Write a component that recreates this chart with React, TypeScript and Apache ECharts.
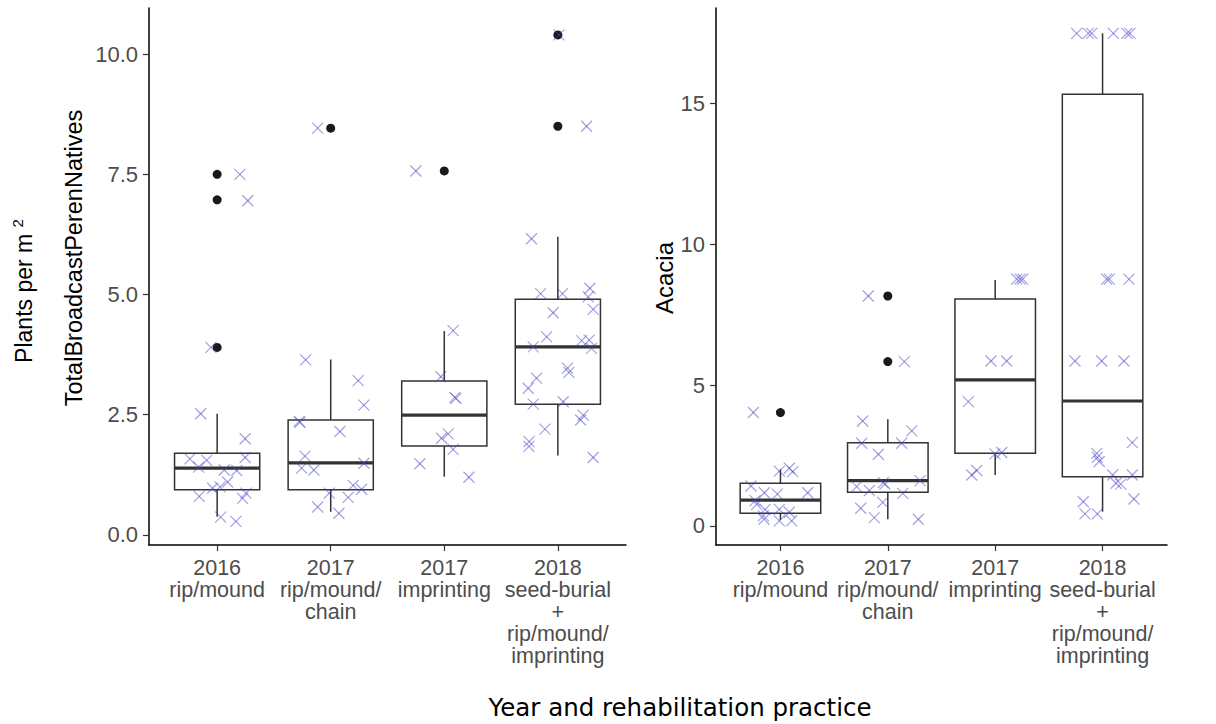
import React, { useEffect, useRef } from "react";
import * as echarts from "echarts";

const categories = [
  "2016\nrip/mound",
  "2017\nrip/mound/\nchain",
  "2017\nimprinting",
  "2018\nseed-burial\n+\nrip/mound/\nimprinting",
];

// Left panel: TotalBroadcastPerenNatives
const leftLow = [0.38, 0.48, 1.21, 1.65];
const leftQ1 = [0.94, 0.94, 1.85, 2.72];
const leftMed = [1.39, 1.5, 2.49, 3.91];
const leftQ3 = [1.7, 2.39, 3.2, 4.9];
const leftHigh = [2.52, 3.65, 4.24, 6.2];
const leftOutliers = [
  [1, 3.9], [1, 6.97], [1, 7.5], [2, 8.46], [3, 7.57], [4, 8.5], [4, 10.4],
];
// [category, jitter offset, value]
const leftJitter = [
  [1, -0.055, 3.9], [1, -0.145, 2.52], [1, 0.247, 2.0], [1, -0.24, 1.58], [1, -0.163, 1.41],
  [1, -0.092, 1.55], [1, 0.247, 1.61], [1, 0.063, 1.35], [1, 0.172, 1.34], [1, 0.092, 1.1],
  [1, 0.025, 1.0], [1, -0.04, 0.97], [1, -0.158, 0.8], [1, 0.224, 0.76], [1, 0.254, 0.87],
  [1, 0.031, 0.37], [1, 0.165, 0.28], [1, 0.2, 7.5], [1, 0.27, 6.95],
  [2, -0.115, 8.46], [2, -0.221, 3.64], [2, 0.242, 3.21], [2, 0.292, 2.7], [2, -0.271, 2.34],
  [2, -0.277, 2.36], [2, 0.081, 2.15], [2, -0.227, 1.64], [2, -0.256, 1.39], [2, -0.148, 1.35],
  [2, 0.292, 1.49], [2, 0.198, 1.03], [2, 0.272, 0.95], [2, 0.154, 0.78], [2, -0.013, 0.87],
  [2, -0.115, 0.58], [2, 0.072, 0.45],
  [3, -0.25, 7.57], [3, 0.078, 4.25], [3, -0.03, 3.29], [3, 0.102, 2.84], [3, 0.093, 2.86],
  [3, 0.034, 2.1], [3, -0.024, 2.01], [3, 0.078, 1.78], [3, -0.215, 1.48], [3, 0.217, 1.2],
  [4, 0.01, 10.4], [4, 0.253, 8.5], [4, -0.232, 6.16], [4, -0.152, 5.02], [4, 0.041, 5.02],
  [4, 0.282, 5.13], [4, 0.267, 4.95], [4, -0.041, 4.62], [4, 0.311, 4.69], [4, -0.099, 4.12],
  [4, -0.217, 3.91], [4, 0.209, 4.04], [4, 0.276, 4.05], [4, 0.297, 3.88], [4, 0.085, 3.47],
  [4, 0.097, 3.38], [4, -0.188, 3.26], [4, -0.261, 3.05], [4, -0.217, 2.72], [4, 0.047, 2.77],
  [4, 0.223, 2.49], [4, 0.2, 2.39], [4, -0.114, 2.2], [4, -0.253, 1.94], [4, -0.255, 1.84],
  [4, 0.311, 1.61],
];
const leftTicks = [0, 2.5, 5, 7.5, 10];

// Right panel: Acacia
const rightLow = [0.21, 0.24, 1.81, 0.51];
const rightQ1 = [0.45, 1.2, 2.58, 1.75];
const rightMed = [0.92, 1.61, 5.19, 4.44];
const rightQ3 = [1.52, 2.96, 8.06, 15.34];
const rightHigh = [2.01, 3.79, 8.74, 17.5];
const rightOutliers = [[1, 4.03], [2, 5.84], [2, 8.17]];
const rightJitter = [
  [1, -0.252, 4.03], [1, -0.01, 1.95], [1, 0.083, 2.05], [1, 0.115, 1.93], [1, -0.274, 1.42],
  [1, -0.15, 1.18], [1, -0.029, 1.13], [1, 0.254, 1.18], [1, -0.236, 0.9], [1, -0.221, 0.77],
  [1, -0.143, 0.59], [1, -0.01, 0.59], [1, 0.083, 0.49], [1, -0.159, 0.36], [1, -0.153, 0.24],
  [1, -0.01, 0.18], [1, 0.105, 0.18],
  [2, -0.182, 8.17], [2, 0.154, 5.84], [2, -0.234, 3.73], [2, 0.223, 3.38], [2, -0.243, 2.94],
  [2, 0.129, 2.94], [2, -0.088, 2.55], [2, -0.29, 1.4], [2, -0.172, 1.26], [2, -0.042, 1.54],
  [2, -0.026, 1.49], [2, 0.3, 1.61], [2, 0.139, 1.16], [2, -0.047, 0.84], [2, -0.252, 0.63],
  [2, -0.126, 0.3], [2, 0.284, 0.24],
  [3, 0.2, 8.77], [3, 0.231, 8.77], [3, 0.256, 8.77], [3, -0.039, 5.86], [3, 0.107, 5.86],
  [3, -0.25, 4.42], [3, -0.002, 2.56], [3, 0.061, 2.61], [3, -0.219, 1.81], [3, -0.172, 1.97],
  [4, -0.241, 17.5], [4, -0.133, 17.5], [4, -0.101, 17.5], [4, 0.1, 17.5], [4, 0.227, 17.5],
  [4, 0.255, 17.5], [4, 0.038, 8.77], [4, 0.062, 8.77], [4, 0.246, 8.77], [4, -0.257, 5.86],
  [4, -0.008, 5.86], [4, 0.199, 5.86], [4, 0.277, 2.96], [4, -0.055, 2.58], [4, -0.049, 2.44],
  [4, -0.031, 2.29], [4, 0.094, 1.81], [4, 0.277, 1.81], [4, 0.125, 1.52], [4, 0.169, 1.49],
  [4, 0.292, 0.96], [4, -0.18, 0.86], [4, -0.164, 0.43], [4, -0.049, 0.43],
];
const rightTicks = [0, 5, 10, 15];

const xTicks = [1, 2, 3, 4];

const FONT = "'Liberation Sans', Arial, sans-serif";
const LABEL_COLOR = "#4d4d4d";
const LINE_COLOR = "#333333";
const CROSS_COLOR = "rgba(70, 70, 200, 0.5)";

function boxRows(low: number[], q1: number[], med: number[], q3: number[], high: number[]) {
  return low.map((_, i) => [i + 1, low[i], q1[i], med[i], q3[i], high[i]]);
}

function renderBox(params: any, api: any) {
  const x = api.value(0);
  const low = api.coord([x, api.value(1)]);
  const q1 = api.coord([x, api.value(2)]);
  const med = api.coord([x, api.value(3)]);
  const q3 = api.coord([x, api.value(4)]);
  const high = api.coord([x, api.value(5)]);
  const half = api.size([0.75, 0])[0] / 2;
  const cx = med[0];
  const lineStyle = { stroke: LINE_COLOR, lineWidth: 1.5, fill: "none" };
  return {
    type: "group",
    children: [
      { type: "line", shape: { x1: cx, y1: q3[1], x2: cx, y2: high[1] }, style: lineStyle },
      { type: "line", shape: { x1: cx, y1: q1[1], x2: cx, y2: low[1] }, style: lineStyle },
      {
        type: "rect",
        shape: { x: cx - half, y: q3[1], width: half * 2, height: q1[1] - q3[1] },
        style: lineStyle,
      },
      {
        type: "line",
        shape: { x1: cx - half, y1: med[1], x2: cx + half, y2: med[1] },
        style: { stroke: LINE_COLOR, lineWidth: 3.2 },
      },
    ],
  };
}

function renderCross(params: any, api: any) {
  const p = api.coord([api.value(0), api.value(1)]);
  const s = 5.5;
  const style = { stroke: CROSS_COLOR, lineWidth: 1.2 };
  return {
    type: "group",
    children: [
      { type: "line", shape: { x1: p[0] - s, y1: p[1] - s, x2: p[0] + s, y2: p[1] + s }, style },
      { type: "line", shape: { x1: p[0] - s, y1: p[1] + s, x2: p[0] + s, y2: p[1] - s }, style },
    ],
  };
}

function xAxisOpt(gridIndex: number) {
  return {
    type: "value",
    gridIndex,
    min: 0.4,
    max: 4.6,
    splitLine: { show: false },
    axisLine: { show: true, onZero: false, lineStyle: { color: "#000", width: 1.5 } },
    axisTick: { show: true, customValues: xTicks, length: 6, lineStyle: { color: LINE_COLOR, width: 1.2 } },
    axisLabel: {
      show: true,
      customValues: xTicks,
      formatter: (v: number) => categories[Math.round(v) - 1],
      color: LABEL_COLOR,
      fontFamily: FONT,
      fontSize: 21.5,
      lineHeight: 22,
      margin: 12,
      align: "center",
    },
  };
}

function yAxisOpt(gridIndex: number, min: number, max: number, ticks: number[], digits: number) {
  return {
    type: "value",
    gridIndex,
    min,
    max,
    splitLine: { show: false },
    axisLine: { show: true, onZero: false, lineStyle: { color: "#000", width: 1.5 } },
    axisTick: { show: true, customValues: ticks, length: 6, lineStyle: { color: LINE_COLOR, width: 1.2 } },
    axisLabel: {
      show: true,
      customValues: ticks,
      formatter: (v: number) => v.toFixed(digits),
      color: LABEL_COLOR,
      fontFamily: FONT,
      fontSize: 22,
      margin: 11,
    },
  };
}

export default function App() {
  const ref = useRef<HTMLDivElement>(null);
  useEffect(() => {
    if (!ref.current) return;
    const chart = echarts.init(ref.current, null, { renderer: "svg" });
    const option: any = {
      animation: false,
      backgroundColor: "#ffffff",
      grid: [
        { left: 149, top: 8, width: 477, height: 537, outerBoundsMode: "none", containLabel: false },
        { left: 716, top: 8, width: 451, height: 537, outerBoundsMode: "none", containLabel: false },
      ],
      xAxis: [xAxisOpt(0), xAxisOpt(1)],
      yAxis: [
        yAxisOpt(0, -0.21, 10.96, leftTicks, 1),
        yAxisOpt(1, -0.675, 18.4, rightTicks, 0),
      ],
      series: [
        {
          type: "custom",
          xAxisIndex: 0,
          yAxisIndex: 0,
          renderItem: renderBox,
          data: boxRows(leftLow, leftQ1, leftMed, leftQ3, leftHigh),
          z: 2,
        },
        {
          type: "custom",
          xAxisIndex: 1,
          yAxisIndex: 1,
          renderItem: renderBox,
          data: boxRows(rightLow, rightQ1, rightMed, rightQ3, rightHigh),
          z: 2,
        },
        {
          type: "scatter",
          xAxisIndex: 0,
          yAxisIndex: 0,
          symbol: "circle",
          symbolSize: 9,
          itemStyle: { color: "#1a1a1a", opacity: 1 },
          data: leftOutliers,
          z: 3,
        },
        {
          type: "scatter",
          xAxisIndex: 1,
          yAxisIndex: 1,
          symbol: "circle",
          symbolSize: 9,
          itemStyle: { color: "#1a1a1a", opacity: 1 },
          data: rightOutliers,
          z: 3,
        },
        {
          type: "custom",
          xAxisIndex: 0,
          yAxisIndex: 0,
          renderItem: renderCross,
          data: leftJitter.map((d) => [d[0] + d[1], d[2]]),
          z: 4,
        },
        {
          type: "custom",
          xAxisIndex: 1,
          yAxisIndex: 1,
          renderItem: renderCross,
          data: rightJitter.map((d) => [d[0] + d[1], d[2]]),
          z: 4,
        },
      ],
      graphic: [
        {
          type: "text",
          x: 24,
          y: 291,
          rotation: Math.PI / 2,
          style: {
            text: "Plants per m {sup|2}",
            fontFamily: FONT,
            fontSize: 23,
            fill: "#000",
            align: "center",
            verticalAlign: "middle",
            rich: { sup: { fontSize: 15, fontFamily: FONT, fill: "#000", padding: [0, 0, 14, 0] } },
          },
        },
        {
          type: "text",
          x: 74,
          y: 258,
          rotation: Math.PI / 2,
          style: {
            text: "TotalBroadcastPerenNatives",
            fontFamily: FONT,
            fontSize: 23.5,
            fill: "#000",
            align: "center",
            verticalAlign: "middle",
          },
        },
        {
          type: "text",
          x: 664,
          y: 278,
          rotation: Math.PI / 2,
          style: {
            text: "Acacia",
            fontFamily: FONT,
            fontSize: 24,
            fill: "#000",
            align: "center",
            verticalAlign: "middle",
          },
        },
        {
          type: "text",
          x: 680,
          y: 707,
          style: {
            text: "Year and rehabilitation practice",
            fontFamily: "'DejaVu Sans', Verdana, sans-serif",
            fontSize: 24.5,
            fill: "#000",
            align: "center",
            verticalAlign: "middle",
          },
        },
      ],
    };
    chart.setOption(option);
    return () => chart.dispose();
  }, []);
  return (
    <div
      ref={ref}
      style={{ position: "fixed", left: 0, top: 0, width: 1216, height: 724, background: "#fff" }}
    />
  );
}
